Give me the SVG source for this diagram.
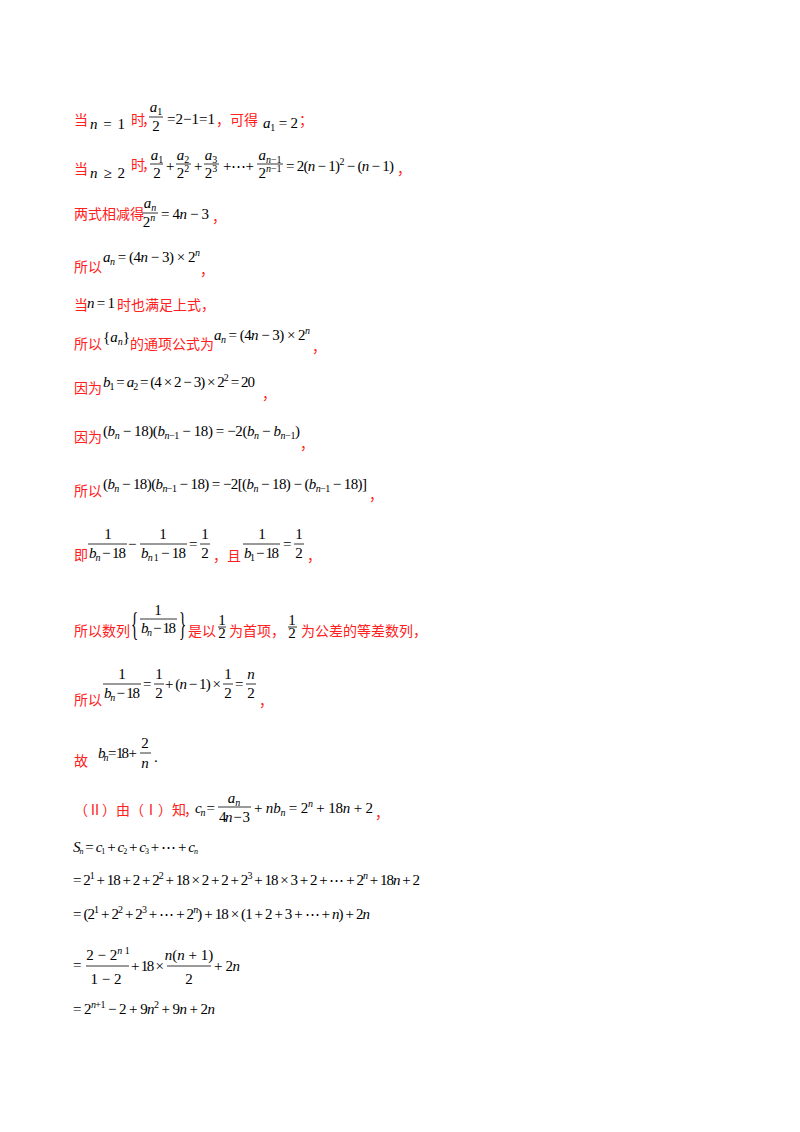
<svg xmlns="http://www.w3.org/2000/svg" width="800" height="1132" viewBox="0 0 800 1132">
<style>
.z{font-family:"Noto Sans CJK SC","Noto Sans",sans-serif;font-size:14px;fill:#ff2020}
.m{font-family:"Liberation Serif","Times New Roman",serif;font-size:15px;fill:#000}
.s{font-size:10px}
.i{font-style:italic}
.f{stroke:#000;stroke-width:0.8}
.c{text-anchor:middle}
</style>
<rect width="800" height="1132" fill="#fff"/>
<g id="l1">
<text class="z" x="74" y="125">当</text>
<text class="m" x="90" y="129" textLength="35"><tspan class="i">n</tspan> = 1</text>
<text class="z" x="131" y="125">时</text>
<text class="z" x="142" y="125">，</text>
<text class="m c" x="156" y="112"><tspan class="i">a</tspan><tspan class="s" dy="3">1</tspan></text>
<line class="f" x1="149" y1="117" x2="163" y2="117"/>
<text class="m c" x="156" y="131">2</text>
<text class="m" x="167" y="124" textLength="48">= 2 − 1 = 1</text>
<text class="z" x="216" y="125">，可得</text>
<text class="m" x="263" y="128" textLength="35"><tspan class="i">a</tspan><tspan class="s" dy="3">1</tspan><tspan dy="-3"> = 2</tspan></text>
<text class="z" x="299" y="125">；</text>
</g>
<g id="l2">
<text class="z" x="74" y="174">当</text>
<text class="m" x="90" y="178" textLength="35"><tspan class="i">n</tspan> ≥ 2</text>
<text class="z" x="131" y="170">时</text>
<text class="z" x="142" y="170">，</text>
<text class="m c" x="157" y="160"><tspan class="i">a</tspan><tspan class="s" dy="3">1</tspan></text>
<line class="f" x1="150" y1="164" x2="163" y2="164"/>
<text class="m c" x="157" y="178">2</text>
<text class="m" x="166" y="171">+</text>
<text class="m c" x="183" y="160"><tspan class="i">a</tspan><tspan class="s" dy="3">2</tspan></text>
<line class="f" x1="176" y1="164" x2="191" y2="164"/>
<text class="m c" x="183" y="178">2<tspan class="s" dy="-6">2</tspan></text>
<text class="m" x="194" y="171">+</text>
<text class="m c" x="211" y="160"><tspan class="i">a</tspan><tspan class="s" dy="3">3</tspan></text>
<line class="f" x1="204" y1="164" x2="219" y2="164"/>
<text class="m c" x="211" y="178">2<tspan class="s" dy="-6">3</tspan></text>
<text class="m" x="223" y="171" textLength="31">+ ⋯ +</text>
<text class="m c" x="270" y="160"><tspan class="i">a</tspan><tspan class="s" dy="3"><tspan class="i">n</tspan>−1</tspan></text>
<line class="f" x1="257" y1="164" x2="283" y2="164"/>
<text class="m c" x="270" y="178">2<tspan class="s" dy="-6"><tspan class="i">n</tspan>−1</tspan></text>
<text class="m" x="286" y="171" textLength="108">= 2(<tspan class="i">n</tspan> − 1)<tspan class="s" dy="-6">2</tspan><tspan dy="6"> − (</tspan><tspan class="i">n</tspan> − 1)</text>
<text class="z" x="397" y="174">，</text>
</g>
<g id="l3">
<text class="z" x="74" y="219">两式相减得</text>
<text class="m c" x="150" y="208"><tspan class="i">a</tspan><tspan class="s i" dy="3">n</tspan></text>
<line class="f" x1="142" y1="213" x2="158" y2="213"/>
<text class="m c" x="149" y="227">2<tspan class="s i" dy="-6">n</tspan></text>
<text class="m" x="161" y="219" textLength="48">= 4<tspan class="i">n</tspan> − 3</text>
<text class="z" x="212" y="222">，</text>
</g>
<g id="l4">
<text class="z" x="74" y="272">所以</text>
<text class="m" x="103" y="262" textLength="97"><tspan class="i">a</tspan><tspan class="s i" dy="3">n</tspan><tspan dy="-3"> = (4</tspan><tspan class="i">n</tspan> − 3) × 2<tspan class="s i" dy="-6">n</tspan></text>
<text class="z" x="200" y="275">，</text>
</g>
<g id="l5">
<text class="z" x="74" y="310">当</text>
<text class="m" x="87" y="308" textLength="28"><tspan class="i">n</tspan> = 1</text>
<text class="z" x="117" y="310">时也满足上式，</text>
</g>
<g id="l6">
<text class="z" x="74" y="349">所以</text>
<text class="m" x="103" y="342">{<tspan class="i">a</tspan><tspan class="s i" dy="3">n</tspan><tspan dy="-3">}</tspan></text>
<text class="z" x="130" y="349">的通项公式为</text>
<text class="m" x="214" y="340" textLength="96"><tspan class="i">a</tspan><tspan class="s i" dy="3">n</tspan><tspan dy="-3"> = (4</tspan><tspan class="i">n</tspan> − 3) × 2<tspan class="s i" dy="-6">n</tspan></text>
<text class="z" x="312" y="352">，</text>
</g>
<g id="l7">
<text class="z" x="74" y="393">因为</text>
<text class="m" x="103" y="387" textLength="152"><tspan class="i">b</tspan><tspan class="s" dy="3">1</tspan><tspan dy="-3"> = </tspan><tspan class="i">a</tspan><tspan class="s" dy="3">2</tspan><tspan dy="-3"> = (4 × 2 − 3) × 2</tspan><tspan class="s" dy="-6">2</tspan><tspan dy="6"> = 20</tspan></text>
<text class="z" x="262" y="399">，</text>
</g>
<g id="l8">
<text class="z" x="74" y="442">因为</text>
<text class="m" x="103" y="436" textLength="197">(<tspan class="i">b</tspan><tspan class="s i" dy="3">n</tspan><tspan dy="-3"> − 18)(</tspan><tspan class="i">b</tspan><tspan class="s" dy="3"><tspan class="i">n</tspan>−1</tspan><tspan dy="-3"> − 18) = −2(</tspan><tspan class="i">b</tspan><tspan class="s i" dy="3">n</tspan><tspan dy="-3"> − </tspan><tspan class="i">b</tspan><tspan class="s" dy="3"><tspan class="i">n</tspan>−1</tspan><tspan dy="-3">)</tspan></text>
<text class="z" x="300" y="449">，</text>
</g>
<g id="l9">
<text class="z" x="74" y="496">所以</text>
<text class="m" x="103" y="489" textLength="264">(<tspan class="i">b</tspan><tspan class="s i" dy="3">n</tspan><tspan dy="-3"> − 18)(</tspan><tspan class="i">b</tspan><tspan class="s" dy="3"><tspan class="i">n</tspan>−1</tspan><tspan dy="-3"> − 18) = −2[(</tspan><tspan class="i">b</tspan><tspan class="s i" dy="3">n</tspan><tspan dy="-3"> − 18) − (</tspan><tspan class="i">b</tspan><tspan class="s" dy="3"><tspan class="i">n</tspan>−1</tspan><tspan dy="-3"> − 18)]</tspan></text>
<text class="z" x="369" y="500">，</text>
</g>
<g id="l10">
<text class="z" x="74" y="560">即</text>
<text class="m c" x="108" y="539">1</text>
<line class="f" x1="88" y1="544" x2="127" y2="544"/>
<text class="m" x="89" y="558" textLength="37"><tspan class="i">b</tspan><tspan class="s i" dy="3">n</tspan><tspan dy="-3"> − 18</tspan></text>
<text class="m" x="128" y="549">−</text>
<text class="m c" x="163" y="539">1</text>
<line class="f" x1="140" y1="544" x2="187" y2="544"/>
<text class="m" x="141" y="558" textLength="45"><tspan class="i">b</tspan><tspan class="s" dy="3"><tspan class="i">n</tspan> 1</tspan><tspan dy="-3"> − 18</tspan></text>
<text class="m" x="189" y="549">=</text>
<text class="m c" x="205" y="539">1</text>
<line class="f" x1="200" y1="544" x2="210" y2="544"/>
<text class="m c" x="205" y="558">2</text>
<text class="z" x="213" y="561">，且</text>
<text class="m c" x="262" y="539">1</text>
<line class="f" x1="243" y1="544" x2="280" y2="544"/>
<text class="m" x="244" y="558" textLength="35"><tspan class="i">b</tspan><tspan class="s" dy="3">1</tspan><tspan dy="-3"> − 18</tspan></text>
<text class="m" x="283" y="549">=</text>
<text class="m c" x="299" y="539">1</text>
<line class="f" x1="294" y1="544" x2="304" y2="544"/>
<text class="m c" x="299" y="558">2</text>
<text class="z" x="307" y="561">，</text>
</g>
<g id="l11">
<text class="z" x="74" y="636">所以数列</text>
<text class="m" x="131" y="635" font-size="18" transform="translate(131 635) scale(1 2.2) translate(-131 -635)">{</text>
<text class="m c" x="158" y="615">1</text>
<line class="f" x1="140" y1="619" x2="177" y2="619"/>
<text class="m" x="141" y="633" textLength="35"><tspan class="i">b</tspan><tspan class="s i" dy="3">n</tspan><tspan dy="-3"> − 18</tspan></text>
<text class="m" x="179" y="635" font-size="18" transform="translate(179 635) scale(1 2.2) translate(-179 -635)">}</text>
<text class="z" x="188" y="636">是以</text>
<text class="m c" x="222" y="625" font-size="12">1</text>
<line class="f" x1="218" y1="627" x2="226" y2="627"/>
<text class="m c" x="222" y="638" font-size="12">2</text>
<text class="z" x="229" y="636">为首项，</text>
<text class="m c" x="292" y="625" font-size="12">1</text>
<line class="f" x1="288" y1="627" x2="297" y2="627"/>
<text class="m c" x="292" y="638" font-size="12">2</text>
<text class="z" x="301" y="636">为公差的等差数列，</text>
</g>
<g id="l12">
<text class="z" x="74" y="705">所以</text>
<text class="m c" x="122" y="679">1</text>
<line class="f" x1="103" y1="684" x2="141" y2="684"/>
<text class="m" x="104" y="698" textLength="36"><tspan class="i">b</tspan><tspan class="s i" dy="3">n</tspan><tspan dy="-3"> − 18</tspan></text>
<text class="m" x="143" y="689">=</text>
<text class="m c" x="159" y="679">1</text>
<line class="f" x1="154" y1="684" x2="164" y2="684"/>
<text class="m c" x="159" y="698">2</text>
<text class="m" x="165" y="689" textLength="56">+ (<tspan class="i">n</tspan> − 1) ×</text>
<text class="m c" x="228" y="679">1</text>
<line class="f" x1="223" y1="684" x2="233" y2="684"/>
<text class="m c" x="228" y="698">2</text>
<text class="m" x="235" y="689">=</text>
<text class="m c i" x="251" y="679">n</text>
<line class="f" x1="246" y1="684" x2="256" y2="684"/>
<text class="m c" x="251" y="698">2</text>
<text class="z" x="259" y="706">，</text>
</g>
<g id="l13">
<text class="z" x="74" y="766">故</text>
<text class="m" x="98" y="758" textLength="39"><tspan class="i">b</tspan><tspan class="s i" dy="3">n</tspan><tspan dy="-3"> = 18 +</tspan></text>
<text class="m c" x="145" y="748">2</text>
<line class="f" x1="140" y1="753" x2="151" y2="753"/>
<text class="m c i" x="145" y="768">n</text>
<text class="m" x="154" y="762">.</text>
</g>
<g id="l14">
<text class="z" x="74" y="815">（Ⅱ）由（Ⅰ）知</text>
<text class="z" x="184" y="815">，</text>
<text class="m" x="195" y="813" textLength="20"><tspan class="i">c</tspan><tspan class="s i" dy="3">n</tspan><tspan dy="-3"> =</tspan></text>
<text class="m c" x="234" y="803"><tspan class="i">a</tspan><tspan class="s i" dy="3">n</tspan></text>
<line class="f" x1="218" y1="807" x2="251" y2="807"/>
<text class="m" x="219" y="822" textLength="31">4<tspan class="i">n</tspan> − 3</text>
<text class="m" x="254" y="813" textLength="119">+ <tspan class="i">nb</tspan><tspan class="s i" dy="3">n</tspan><tspan dy="-3"> = 2</tspan><tspan class="s i" dy="-6">n</tspan><tspan dy="6"> + 18</tspan><tspan class="i">n</tspan> + 2</text>
<text class="z" x="375" y="818">，</text>
</g>
<g id="l15">
<text class="m" x="73" y="852" font-size="12" textLength="125"><tspan class="i">S</tspan><tspan class="i" font-size="8" dy="2">n</tspan><tspan dy="-2"> = </tspan><tspan class="i">c</tspan><tspan font-size="8" dy="2">1</tspan><tspan dy="-2"> + </tspan><tspan class="i">c</tspan><tspan font-size="8" dy="2">2</tspan><tspan dy="-2"> + </tspan><tspan class="i">c</tspan><tspan font-size="8" dy="2">3</tspan><tspan dy="-2"> + ⋯ + </tspan><tspan class="i">c</tspan><tspan class="i" font-size="8" dy="2">n</tspan></text>
<text class="m" x="73" y="885" textLength="347">= 2<tspan class="s" dy="-6">1</tspan><tspan dy="6"> + 18 + 2 + 2</tspan><tspan class="s" dy="-6">2</tspan><tspan dy="6"> + 18 × 2 + 2 + 2</tspan><tspan class="s" dy="-6">3</tspan><tspan dy="6"> + 18 × 3 + 2 + ⋯ + 2</tspan><tspan class="s i" dy="-6">n</tspan><tspan dy="6"> + 18</tspan><tspan class="i">n</tspan> + 2</text>
<text class="m" x="73" y="919" textLength="297">= (2<tspan class="s" dy="-6">1</tspan><tspan dy="6"> + 2</tspan><tspan class="s" dy="-6">2</tspan><tspan dy="6"> + 2</tspan><tspan class="s" dy="-6">3</tspan><tspan dy="6"> + ⋯ + 2</tspan><tspan class="s i" dy="-6">n</tspan><tspan dy="6">) + 18 × (1 + 2 + 3 + ⋯ + </tspan><tspan class="i">n</tspan>) + 2<tspan class="i">n</tspan></text>
<text class="m" x="73" y="970">=</text>
<text class="m c" x="108" y="960">2 − 2<tspan class="s" dy="-6"><tspan class="i">n</tspan> 1</tspan></text>
<line class="f" x1="86" y1="966" x2="129" y2="966"/>
<text class="m c" x="106" y="984">1 − 2</text>
<text class="m" x="131" y="971" textLength="33">+ 18 ×</text>
<text class="m c" x="189" y="960"><tspan class="i">n</tspan>(<tspan class="i">n</tspan> + 1)</text>
<line class="f" x1="167" y1="966" x2="211" y2="966"/>
<text class="m c" x="189" y="984">2</text>
<text class="m" x="214" y="971" textLength="26">+ 2<tspan class="i">n</tspan></text>
<text class="m" x="73" y="1014" textLength="142">= 2<tspan class="s" dy="-6"><tspan class="i">n</tspan>+1</tspan><tspan dy="6"> − 2 + 9</tspan><tspan class="i">n</tspan><tspan class="s" dy="-6">2</tspan><tspan dy="6"> + 9</tspan><tspan class="i">n</tspan> + 2<tspan class="i">n</tspan></text>
</g>
</svg>
